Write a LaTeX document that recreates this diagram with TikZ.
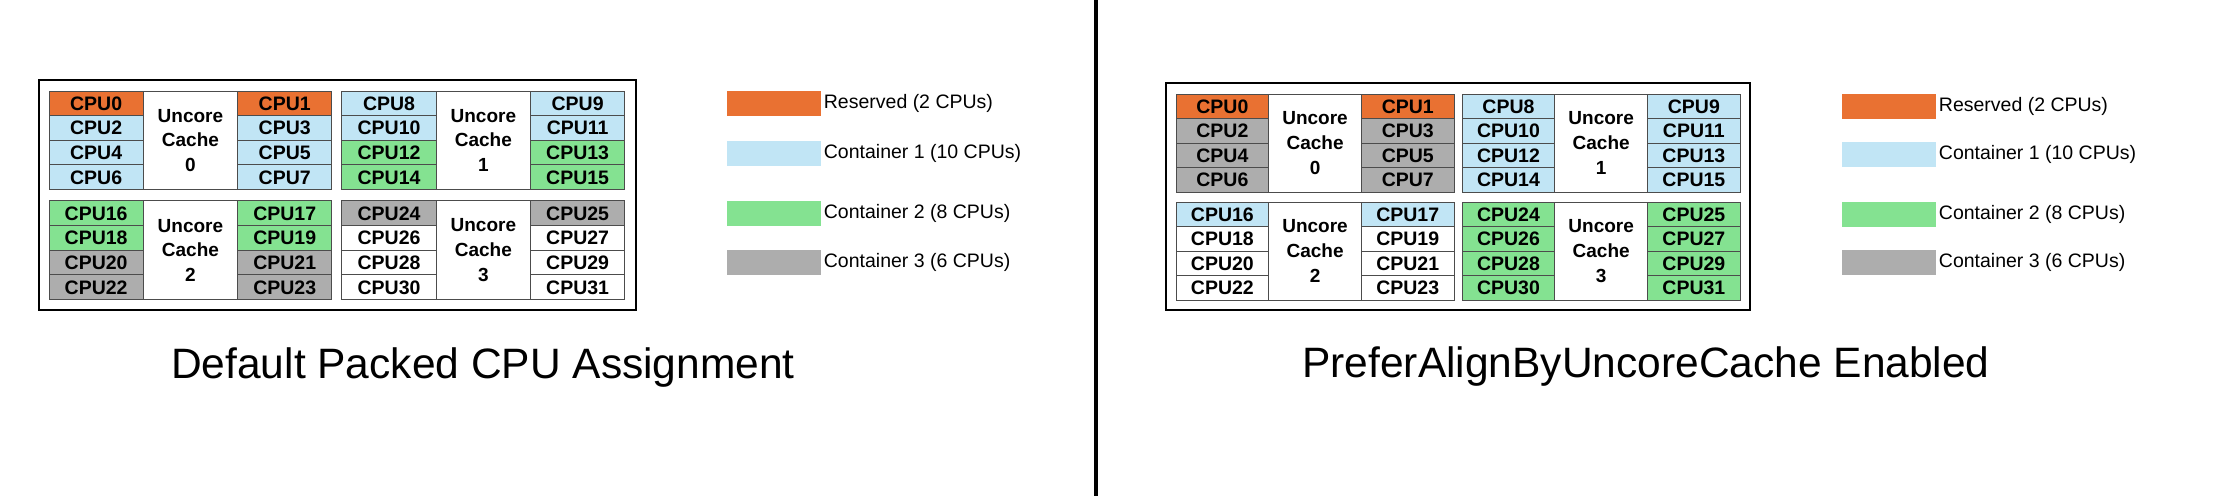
\documentclass[tikz,border=0pt]{standalone}
\usepackage{fontspec}
\setmainfont{Liberation Sans}
\usetikzlibrary{positioning}
\definecolor{reserved}{HTML}{E97132}
\definecolor{cont1}{HTML}{C1E5F5}
\definecolor{cont2}{HTML}{84E291}
\definecolor{cont3}{HTML}{ADADAD}
\newcommand{\cpupanel}[8]{%
  \foreach \c [count=\n from 0] in {#8} {
    \pgfmathtruncatemacro\blk{\n/8}
    \pgfmathtruncatemacro\rw{mod(\n,8)/2}
    \pgfmathtruncatemacro\sd{mod(\n,2)}
    \pgfmathsetmacro\cx{#2+mod(\blk,2)*(3*#4+#6)+(0.5+2*\sd)*#4}
    \pgfmathsetmacro\cy{#3+int(\blk/2)*(4*#5+#7)+(\rw+0.5)*#5}
    \node[cpu,fill=\c,minimum width=#4pt,minimum height=#5pt] (#1-cpu\n) at (\cx,\cy) {CPU\n};
  }
  \foreach \b in {0,...,3} {
    \pgfmathsetmacro\ux{#2+mod(\b,2)*(3*#4+#6)+1.5*#4}
    \pgfmathsetmacro\uy{#3+int(\b/2)*(4*#5+#7)+2*#5}
    \node[uncore,minimum width=#4pt,minimum height=4*#5pt] (#1-cache\b) at (\ux,\uy) {Uncore\\Cache\\\b};
  }
}
\begin{document}
\begin{tikzpicture}[x=1pt,y=-1pt,
    cpu/.style={draw=black!70,line width=0.9pt,inner sep=0pt,text height=14pt,text depth=0pt,font=\fontsize{19.5}{23}\selectfont\bfseries},
    uncore/.style={draw=black!70,line width=0.9pt,fill=white,inner sep=0pt,align=center,font=\fontsize{19}{24.6}\selectfont\bfseries},
    swatch/.style={draw=none,minimum width=94pt,minimum height=25pt,inner sep=0pt},
    keytext/.style={inner sep=0pt,anchor=west,font=\fontsize{19.5}{23}\selectfont},
    title/.style={inner sep=0pt,anchor=base,font=\fontsize{42.5}{50}\selectfont}]
\useasboundingbox[fill=white] (0,0) rectangle (2225,496);
\draw[line width=4pt] (1096,0) -- (1096,496);
\draw[line width=1.8pt] (39,80) rectangle (636,310);
\draw[line width=1.8pt] (1166,83) rectangle (1750,310);
\cpupanel{L}{49}{91}{94.3}{24.6}{10}{11.5}{reserved,reserved,cont1,cont1,cont1,cont1,cont1,cont1,
  cont1,cont1,cont1,cont1,cont2,cont2,cont2,cont2,
  cont2,cont2,cont2,cont2,cont3,cont3,cont3,cont3,
  cont3,cont3,white,white,white,white,white,white}
\cpupanel{R}{1176}{94}{92.7}{24.5}{8}{10}{reserved,reserved,cont3,cont3,cont3,cont3,cont3,cont3,
  cont1,cont1,cont1,cont1,cont1,cont1,cont1,cont1,
  cont1,cont1,white,white,white,white,white,white,
  cont2,cont2,cont2,cont2,cont2,cont2,cont2,cont2}
\node[swatch,fill=reserved] (L-key0) at (773.5,103.5) {};
\node[swatch,fill=cont1] (L-key1) at (773.5,153) {};
\node[swatch,fill=cont2] (L-key2) at (773.5,213) {};
\node[swatch,fill=cont3] (L-key3) at (773.5,262.5) {};
\node[keytext,right=3pt of L-key0] (L-txt0) {Reserved (2 CPUs)};
\node[keytext,right=3pt of L-key1] (L-txt1) {Container 1 (10 CPUs)};
\node[keytext,right=3pt of L-key2] (L-txt2) {Container 2 (8 CPUs)};
\node[keytext,right=3pt of L-key3] (L-txt3) {Container 3 (6 CPUs)};
\node[swatch,fill=reserved] (R-key0) at (1888.5,106) {};
\node[swatch,fill=cont1] (R-key1) at (1888.5,154.5) {};
\node[swatch,fill=cont2] (R-key2) at (1888.5,214.5) {};
\node[swatch,fill=cont3] (R-key3) at (1888.5,262.5) {};
\node[keytext,right=3pt of R-key0] (R-txt0) {Reserved (2 CPUs)};
\node[keytext,right=3pt of R-key1] (R-txt1) {Container 1 (10 CPUs)};
\node[keytext,right=3pt of R-key2] (R-txt2) {Container 2 (8 CPUs)};
\node[keytext,right=3pt of R-key3] (R-txt3) {Container 3 (6 CPUs)};
\node[title] (L-title) at (483,378) {Default Packed CPU Assignment};
\node[title] (R-title) at (1646,377) {PreferAlignByUncoreCache Enabled};
\end{tikzpicture}
\end{document}
